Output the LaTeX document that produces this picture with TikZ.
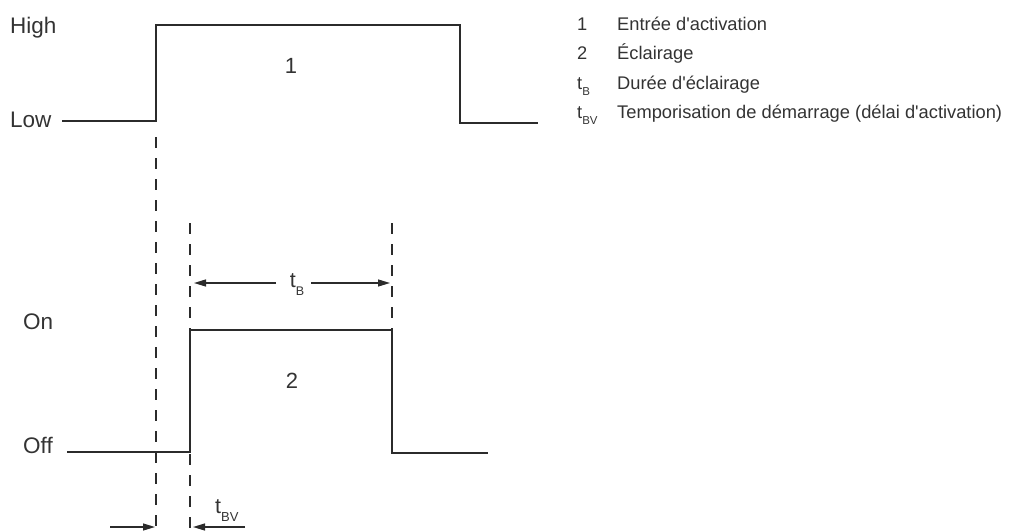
\documentclass[tikz,border=0pt]{standalone}
\usepackage{fontspec}
\setmainfont{Liberation Sans}[Ligatures=TeXOff]
\usetikzlibrary{arrows.meta}
\definecolor{ink}{HTML}{2B2B2B}
\definecolor{txt}{HTML}{333333}
\begin{document}
\begin{tikzpicture}[x=1pt,y=-1pt,
  signal/.style={draw=ink,line width=2.6pt,line join=miter},
  guide/.style={draw=ink,line width=2.6pt,dash pattern=on 11pt off 10pt},
  dim/.style={draw=ink,line width=1.3pt,-{Triangle[length=12pt,width=7pt]}},
  biglabel/.style={text=txt,inner sep=0pt,anchor=base west,font=\fontsize{22.5}{26}\selectfont},
  numlabel/.style={text=txt,inner sep=0pt,anchor=base,font=\fontsize{22}{26}\selectfont},
  legnum/.style={text=txt,inner sep=0pt,anchor=base west,font=\fontsize{18.3}{22}\selectfont},
  legtext/.style={text=txt,inner sep=0pt,anchor=base west,font=\fontsize{18.3}{22}\selectfont}]
\useasboundingbox (0,0) rectangle (1011,530);
% axis labels
\node[biglabel] (high) at (10,33) {High};
\node[biglabel] (low) at (10,127) {Low};
\node[biglabel] (on) at (23,329) {On};
\node[biglabel] (off) at (23,453) {Off};
% signal 1
\coordinate (a0) at (62,121);
\coordinate (a1) at (156,121);
\coordinate (a2) at (156,25);
\coordinate (a3) at (460,25);
\coordinate (a4) at (460,123);
\coordinate (a5) at (538,123);
\draw[signal] (a0) -- (a1) -- (a2) -- (a3) -- (a4) -- (a5);
\node[numlabel] (n1) at (291,73) {1};
% signal 2
\coordinate (b0) at (67,452);
\coordinate (b1) at (190,452);
\coordinate (b2) at (190,330);
\coordinate (b3) at (392,330);
\coordinate (b4) at (392,453);
\coordinate (b5) at (488,453);
\draw[signal] (b0) -- (b1) -- (b2) -- (b3) -- (b4) -- (b5);
\node[numlabel] (n2) at (292,388) {2};
% dashed guides
\coordinate (g1t) at (156,137);
\coordinate (g1b) at (156,530);
\coordinate (g2t) at (190,223);
\coordinate (g2b) at (190,530);
\coordinate (g3t) at (392,223);
\coordinate (g3b) at (392,330);
\draw[guide] (g1t) -- (g1b);
\draw[guide] (g2t) -- (g2b);
\draw[guide] (g3t) -- (g3b);
% t_B dimension
\node[text=txt,inner sep=0pt,anchor=base] (tb) at (297,287) {\fontsize{21.5}{24}\selectfont t\raisebox{-8.5pt}{\fontsize{12.5}{12}\selectfont B}};
\coordinate (tbl) at (194,283);
\coordinate (tbr) at (390,283);
\coordinate (tblt) at (276,283);
\coordinate (tbrt) at (311,283);
\draw[dim] (tblt) -- (tbl);
\draw[dim] (tbrt) -- (tbr);
% t_BV dimension
\node[text=txt,inner sep=0pt,anchor=base west] (tbv) at (215,513) {\fontsize{21.5}{24}\selectfont t\raisebox{-8.5pt}{\fontsize{13}{12}\selectfont BV}};
\coordinate (v1t) at (110,527);
\coordinate (v1h) at (155,527);
\coordinate (v2t) at (245,527);
\coordinate (v2h) at (193,527);
\draw[dim] (v1t) -- (v1h);
\draw[dim] (v2t) -- (v2h);
% legend
\node[legnum] (l1n) at (577,30) {1};
\node[legtext] (l1t) at (617,30) {Entrée d'activation};
\node[legnum] (l2n) at (577,59.5) {2};
\node[legtext] (l2t) at (617,59.5) {Éclairage};
\node[legnum] (l3n) at (577,89) {t\raisebox{-6pt}{\fontsize{11.5}{11}\selectfont B}};
\node[legtext] (l3t) at (617,89) {Durée d'éclairage};
\node[legnum] (l4n) at (577,118.5) {t\raisebox{-6pt}{\fontsize{11.5}{11}\selectfont BV}};
\node[legtext] (l4t) at (617,118.5) {Temporisation de démarrage (délai d'activation)};
\end{tikzpicture}
\end{document}
